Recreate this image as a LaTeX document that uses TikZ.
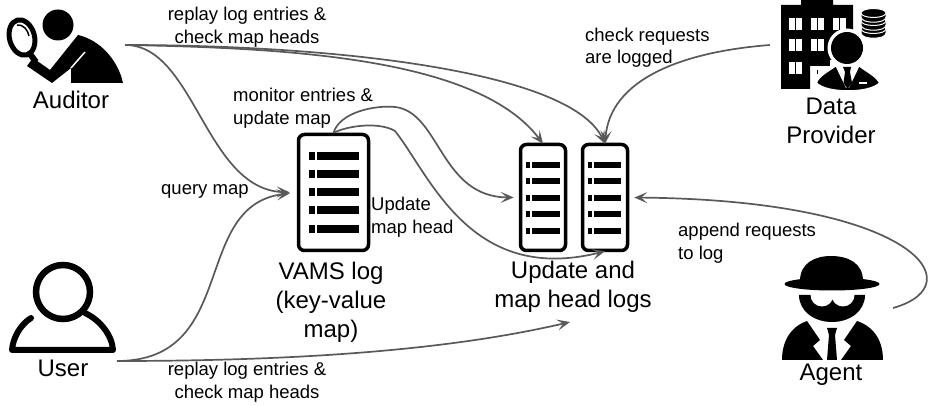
\documentclass[tikz,border=0pt]{standalone}
\usepackage{fontspec}
\setmainfont{Liberation Sans}
\usetikzlibrary{arrows.meta}

\tikzset{
    small label/.style={font=\fontsize{18.5}{22.5}\selectfont, align=left, inner sep=0pt},
    big label/.style={font=\fontsize{24}{29}\selectfont, align=center, inner sep=0pt},
    log box/.style={draw, rounded corners=6pt, line width=3.5pt, inner sep=0pt},
    actor/.style={inner sep=0pt},
    flow/.style={draw=black!65, line width=1.7pt, -{Stealth[length=13pt,width=11pt,inset=6pt]}}
}
% one row of a log: x of dot, x of bar start, x of bar end, y, height
\newcommand{\logrow}[5]{
    \fill (#1,#4-#5/2) rectangle (#2-2,#4+#5/2);
    \fill (#2,#4-#5/2) rectangle (#3,#4+#5/2);
}

\begin{document}
\begin{tikzpicture}[x=1pt,y=-1pt]
    \useasboundingbox (0,0) rectangle (938,406);

    % logs
    \node at (333.5,192.5) [log box, minimum width=70pt, minimum height=116pt] (vamslog) {};
    \node at (543,197.5) [log box, minimum width=45pt, minimum height=106pt] (updatelog) {};
    \node at (605,197.5) [log box, minimum width=45pt, minimum height=106pt] (headlog) {};
    \foreach \y in {156,174,192,210,229} {
        \logrow{309}{317}{359}{\y}{8}
    }
    \foreach \y in {165,181,198,214,231} {
        \logrow{526}{532}{560}{\y}{6.5}
        \logrow{588}{594}{621}{\y}{6.5}
    }

    % auditor
    \node at (66,45) [actor, minimum width=118pt, minimum height=80pt] (auditor) {};
    \fill (58,25) circle (15.5);
    \draw[line width=5pt, rotate around={15:(22,37.5)}] (22,37.5) ellipse (12.5 and 18);
    \draw[line width=1.5pt] (17,25) .. controls (23,24) and (28,30) .. (29,36);
    \draw[line width=6pt] (30,54) -- (36,62);
    \fill (27,66) -- (33,58) -- (50,70) -- (78,35) .. controls (100,40) and (118,60) .. (123,83)
        -- (71,83) -- (71,68) -- (52,83) -- cycle;
    \draw[white, line width=1.5pt] (85,52) -- (71,68);

    % user
    \node at (63,320) [actor, minimum width=108pt, minimum height=72pt] (user) {};
    \draw[line width=6.5pt] (63,292) circle (27);
    \draw[line width=6pt, line cap=round, line join=round] (31,318) .. controls (20,325) and (13,338) .. (12,350)
        -- (113,350) .. controls (112,335) and (100,320) .. (85,313);

    % data provider
    \node at (830,45) [actor, minimum width=120pt, minimum height=90pt] (provider) {};
    \fill (781,5) -- (801,5) -- (801,0) -- (833,0) -- (833,5) -- (853,5) -- (853,66) -- (810,66) -- (810,89) -- (781,89) -- cycle;
    \foreach \y in {18,39,62} {
        \foreach \x in {789,811,833} {
            \fill[white] (\x,\y) rectangle (\x+13,\y+12);
            \fill (\x+5.7,\y) rectangle (\x+7.3,\y+12);
        }
    }
    \fill[white] (811,60) rectangle (856,70);
    \fill (810,60) rectangle (830,66);
    \fill[white] (847,48) circle (19.5);
    \fill (847,48) circle (16);
    \fill[draw=white, line width=2pt] (816,83) .. controls (818,76) and (828,71) .. (835,66) -- (860,66)
        .. controls (866,71) and (877,76) .. (880,83) .. controls (870,94) and (826,94) .. (816,83) -- cycle;
    \fill[white] (835,65) -- (860,65) -- (849,88) -- (846,88) -- cycle;
    \fill (843,67) -- (851,67) -- (850,72) -- (852,83) -- (847.5,89) -- (843.5,83) -- (845,72) -- cycle;
    \fill[white] (859,82) rectangle (867,84);
    \foreach \y in {29,21,13} {
        \fill[draw=white, line width=1pt] (861,\y) -- (861,\y+4) .. controls (861,\y+11) and (886,\y+11) .. (886,\y+4)
            -- (886,\y) -- cycle;
        \fill[draw=white, line width=1pt] (873.5,\y) ellipse (12.5 and 4.5);
    }

    % agent
    \node at (832,308) [actor, minimum width=104pt, minimum height=104pt] (agent) {};
    \fill (800,281) .. controls (800,263) and (815,256) .. (831,256) .. controls (848,256) and (863,263) .. (863,281) -- cycle;
    \fill (799,295) -- (865,295) .. controls (865,311) and (850,322) .. (832,322) .. controls (814,322) and (799,311) .. (799,295) -- cycle;
    \fill[white] (822,295) circle (11.5);
    \fill[white] (843,295) circle (11.5);
    \fill (832,284) ellipse (47.5 and 6.5);
    \fill (782,360) .. controls (782,342) and (790,327) .. (807,321) -- (820,340) -- (813,346) -- (823,360) -- cycle;
    \fill (883,360) .. controls (883,342) and (875,327) .. (857,321) -- (844,340) -- (851,346) -- (841,360) -- cycle;
    \fill (827,328) -- (837,328) -- (835,335) -- (837,360) -- (827,360) -- (829,335) -- cycle;

    % free ends of the connectors
    \coordinate (user out) at (117,361);
    \coordinate (agent out) at (893,308);
    \coordinate (logs in) at (570,322);

    % connectors
    \draw[flow] (auditor.east) .. controls (300,48) and (480,60) .. ([yshift=-1pt]updatelog.north);
    \draw[flow] (auditor.east) .. controls (330,45) and (570,70) .. ([yshift=-1pt]headlog.north);
    \draw[flow, shorten >=7pt] (auditor.east) .. controls (195,45) and (205,190) .. (vamslog.west);
    \draw[flow, shorten >=7pt] (user out) .. controls (240,361) and (190,205) .. (vamslog.west);
    \draw[flow] (user out) .. controls (300,361) and (450,350) .. (logs in);
    \draw[flow, shorten >=5pt] (vamslog.north) .. controls (340,112) and (375,105) .. (395,107)
        .. controls (440,112) and (440,197) .. (updatelog.west);
    \draw[flow] (vamslog.north) .. controls (350,125) and (380,122) .. (395,131)
        .. controls (430,175) and (470,285) .. ([yshift=1pt]headlog.south);
    \draw[flow] (provider.west) .. controls (680,52) and (610,80) .. ([yshift=-1pt]headlog.north);
    \draw[flow, shorten >=5pt] (agent out) .. controls (975,285) and (915,200) .. (headlog.east);

    % labels
    \node at (247,27) [small label, align=center] (replaytop) {replay log entries \&\\check map heads};
    \node at (585,47.5) [small label, anchor=west] (checklabel) {check requests\\are logged};
    \node at (233,108) [small label, anchor=west] (monitorlabel) {monitor entries \&\\update map};
    \node at (161,191) [small label, anchor=west] (querylabel) {query map};
    \node at (371,217) [small label, anchor=west] (headlabel) {Update\\map head};
    \node at (678,243) [small label, anchor=west] (appendlabel) {append requests\\to log};
    \node at (247,382) [small label, align=center] (replaybottom) {replay log entries \&\\check map heads};

    \node at (71,100) [big label] (auditorname) {Auditor};
    \node at (63,368) [big label] (username) {User};
    \node at (831,375) [big label] (agentname) {Agent};
    \node at (831,121) [big label] (providername) {Data\\Provider};
    \node at (331,302.5) [big label] (vamsname) {VAMS log\\(key-value\\map)};
    \node at (573,287) [big label] (logsname) {Update and\\map head logs};
\end{tikzpicture}
\end{document}
